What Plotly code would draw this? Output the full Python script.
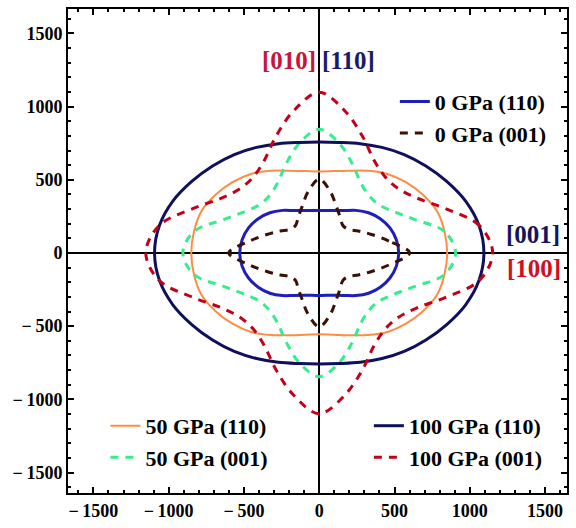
import numpy as np
import plotly.graph_objects as go

# Directional radii sampled over the first quadrant (degrees); each curve is
# symmetric about both axes, so the other quadrants are mirrored from these.
angles_deg = [0, 10, 20, 30, 40, 50, 60, 70, 80, 90]

r_0gpa_110 = [528, 520, 500, 468, 428, 380, 335, 308, 294, 290]
r_0gpa_001 = [600, 470, 370, 300, 252, 245, 280, 335, 425, 505]
r_50gpa_110 = [850, 845, 833, 795, 752, 705, 648, 598, 568, 556]
r_50gpa_001 = [906, 845, 672, 568, 515, 513, 553, 646, 762, 845]
r_100gpa_110 = [1094, 1078, 1035, 978, 925, 878, 833, 795, 767, 758]
r_100gpa_001 = [1152, 1080, 890, 750, 685, 680, 730, 845, 985, 1098]

series_names = ["0 GPa (110)", "0 GPa (001)", "50 GPa (110)",
                "50 GPa (001)", "100 GPa (110)", "100 GPa (001)"]
series_radii = [r_0gpa_110, r_0gpa_001, r_50gpa_110,
                r_50gpa_001, r_100gpa_110, r_100gpa_001]

tick_vals = [-1500, -1000, -500, 0, 500, 1000, 1500]
tick_text = ["\u2212\u20091500", "\u2212\u20091000", "\u2212\u2009500",
             "0", "500", "1000", "1500"]

direction_labels = ["[010]", "[110]", "[001]", "[100]"]


def closed_curve(r_quadrant):
    a = np.array(angles_deg, dtype=float)
    r = np.array(r_quadrant, dtype=float)
    th = np.concatenate([a, 180 - a[::-1][1:], 180 + a[1:], 360 - a[::-1][1:]])
    rr = np.concatenate([r, r[::-1][1:], r[1:], r[::-1][1:]])
    t = np.radians(th)
    return rr * np.cos(t), rr * np.sin(t)


styles = [
    dict(color="#1e1eb8", width=3, dash="solid", legend="legend"),
    dict(color="#3b1005", width=3, dash="8px,7px", legend="legend"),
    dict(color="#ff8c42", width=2, dash="solid", legend="legend2"),
    dict(color="#38ec8c", width=3, dash="8px,7px", legend="legend2"),
    dict(color="#0f0f5c", width=3, dash="solid", legend="legend3"),
    dict(color="#c2001a", width=3, dash="8px,7px", legend="legend3"),
]

serif = "Liberation Serif, Times New Roman, serif"

fig = go.Figure()
for name, radii, st in zip(series_names, series_radii, styles):
    x, y = closed_curve(radii)
    fig.add_trace(go.Scatter(
        x=x, y=y, mode="lines", name=name,
        line=dict(color=st["color"], width=st["width"], dash=st["dash"],
                  shape="spline", smoothing=1.0),
        legend=st["legend"], hoverinfo="skip",
    ))

axis_common = dict(
    tickvals=tick_vals, ticktext=tick_text,
    ticks="inside", ticklen=6, tickwidth=2, tickcolor="black",
    minor=dict(ticks="inside", dtick=100, ticklen=3, tickwidth=1.5, tickcolor="black"),
    showline=True, linecolor="black", linewidth=2, mirror="ticks",
    showgrid=False, zeroline=True, zerolinecolor="black", zerolinewidth=2,
    tickfont=dict(family=serif, size=18, color="black", weight="bold"),
)

legend_common = dict(
    font=dict(family=serif, size=22, color="black", weight="bold"),
    bgcolor="rgba(0,0,0,0)", borderwidth=0,
    xanchor="left", yanchor="top", tracegroupgap=0,
)

fig.update_layout(
    width=576, height=528,
    margin=dict(l=68, r=8, t=7, b=25),
    paper_bgcolor="white", plot_bgcolor="white",
    xaxis=dict(range=[-1669, 1646], **axis_common),
    yaxis=dict(range=[-1640, 1667], **axis_common),
    legend=dict(x=0.655, y=0.852, **legend_common),
    legend2=dict(x=0.075, y=0.182, **legend_common),
    legend3=dict(x=0.603, y=0.182, **legend_common),
    showlegend=True,
)

label_pos = [(-199, 1313), (195, 1313), (1422, 127), (1425, -107)]
label_colors = ["#c8143c", "#1a1a66", "#14145e", "#d01020"]
for txt, (lx, ly), col in zip(direction_labels, label_pos, label_colors):
    fig.add_annotation(x=lx, y=ly, text=txt, showarrow=False,
                       font=dict(family=serif, size=25, color=col, weight="bold"))

fig.write_html("out.html")
